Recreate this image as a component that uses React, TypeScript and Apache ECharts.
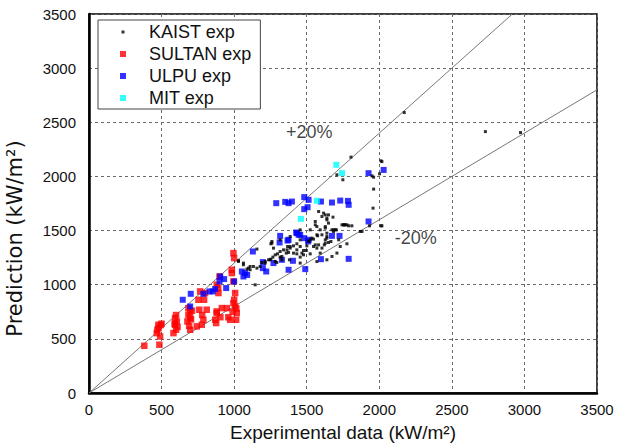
import React, { useEffect, useRef } from "react";
import * as echarts from "echarts";

type P = [number, number];

const seriesNames = ["KAIST exp", "SULTAN exp", "ULPU exp", "MIT exp"];
const axisTicks = [0, 500, 1000, 1500, 2000, 2500, 3000, 3500];

const kaist: P[] = [
  [1030, 1223], [1064, 1184], [1099, 1153], [1030, 1215], [1064, 1200], [1088, 1144], [1110, 1138], [1133, 1168],
  [1157, 1153], [1145, 999], [1179, 1168], [1214, 1200], [1248, 1230], [1283, 1215], [1329, 1261], [1364, 1322],
  [1386, 1353], [1409, 1292], [1260, 1384], [1317, 1415], [1386, 1445], [1455, 1507], [1524, 1415], [1570, 1338],
  [1628, 1415], [1685, 1492], [1754, 1553], [1777, 1553], [1582, 1676], [1559, 1584], [1570, 1537], [1605, 1630],
  [1628, 1645], [1639, 1599], [1650, 1569], [1628, 1537], [1674, 1507], [1697, 1507], [1639, 1476], [1575, 1452],
  [1547, 1421], [1639, 1430], [1667, 1399], [1621, 1368], [1605, 1338], [1582, 1368], [1547, 1353], [1513, 1399],
  [1501, 1359], [1497, 1316], [1524, 1285], [1478, 1316], [1455, 1415], [1455, 1353], [1432, 1378], [1409, 1359],
  [1386, 1338], [1368, 1353], [1340, 1322], [1317, 1307], [1299, 1285], [1283, 1276], [1267, 1255], [1253, 1236],
  [1237, 1230], [1214, 1214], [1191, 1205], [1157, 1329], [1253, 1378], [1271, 1338], [1317, 1255], [1359, 1292],
  [1432, 1285], [1455, 1255], [1478, 1276], [1759, 1553], [1789, 1544], [1811, 1544], [1881, 1492], [2018, 1544],
  [1731, 1353], [1777, 1378], [1524, 1507], [1570, 1214], [1639, 1230], [1674, 1261], [1708, 1292], [1593, 1292],
  [1455, 1200], [1381, 1230], [1329, 1230], [1294, 1205], [1110, 1168], [1616, 1661], [1639, 1615], [1559, 1553],
  [1593, 1507], [1570, 1461], [1605, 1461], [1639, 1445], [1628, 1384], [1536, 1430], [1559, 1368], [1260, 1399],
  [1375, 1298], [1432, 1322], [1467, 1292], [2172, 2590], [2731, 2414], [2973, 2405], [1805, 2178], [2012, 2144],
  [2018, 2137], [1708, 2015], [1749, 1969], [1950, 2005], [1961, 1993], [2002, 2024], [1961, 1883], [1957, 1707],
  [2012, 1544], [1933, 1544], [1869, 1492], [1743, 1553], [1765, 1553], [1685, 1507], [1704, 1507], [1720, 1415],
  [1650, 1645], [1681, 1624], [1628, 1523], [1650, 1390],
];

const sultan: P[] = [
  [381, 436], [485, 446], [490, 522], [471, 584], [478, 630], [494, 627], [467, 553], [500, 640], [480, 600],
  [593, 692], [600, 720], [605, 660], [593, 630], [600, 584], [582, 553], [610, 610], [590, 640],
  [685, 784], [697, 750], [685, 722], [678, 661], [697, 692], [697, 584], [690, 620], [703, 680], [710, 760],
  [754, 861], [766, 938], [743, 615], [777, 630], [788, 676], [811, 769], [793, 861], [800, 923], [760, 769], [780, 720],
  [880, 753], [876, 646], [880, 738], [892, 923], [899, 1076], [915, 784], [949, 784], [880, 1000], [890, 969],
  [870, 677], [905, 700], [995, 1292], [1000, 1246], [984, 1138], [984, 1107], [995, 1030], [1007, 923],
  [995, 830], [1007, 800], [1018, 738], [1014, 676], [972, 676], [1000, 861], [990, 750], [960, 700], [1015, 780],
];

const ulpu: P[] = [
  [646, 861], [701, 916], [697, 799], [788, 916], [830, 938], [853, 938], [869, 960], [899, 1030], [904, 1076],
  [931, 1052], [945, 969], [1000, 1030], [1053, 1122], [1076, 1107], [1064, 1076], [1090, 1090], [1129, 1307],
  [1198, 1209], [1198, 1153], [1221, 1122], [1271, 1200], [1317, 1451], [1375, 1138], [1368, 1408], [1432, 1476],
  [1455, 1461], [1483, 1430], [1510, 1400], [1490, 1144], [1598, 1236], [1674, 1451], [1726, 1451], [1789, 1239],
  [1290, 1753], [1352, 1765], [1375, 1753], [1398, 1768], [1483, 1809], [1513, 1784], [1483, 1698], [1506, 1716],
  [1598, 1768], [1674, 1759], [1731, 1777], [1784, 1774], [1789, 1738], [1926, 2030], [2030, 2060], [1926, 1584],
  [1313, 1390], [1329, 1230], [1405, 1221], [1444, 1461], [1428, 1482], [1513, 1415], [1375, 1415],
];

const mit: P[] = [[1460, 1608], [1570, 1775], [1704, 2107], [1743, 2030]];

const upperBound: P[] = [[0, 0], [2916.7, 3500]];
const lowerBound: P[] = [[0, 0], [3500, 2800]];

const annotations: [number, number, string][] = [
  [1517, 2414, "+20%"],
  [2252, 1430, "-20%"],
];

const FONT = "'Liberation Sans', Arial, sans-serif";

export default function App() {
  const ref = useRef<HTMLDivElement>(null);
  useEffect(() => {
    if (!ref.current) return;
    const chart = echarts.init(ref.current, undefined, { renderer: "svg" });
    const axisCommon = {
      type: "value" as const,
      min: axisTicks[0],
      max: axisTicks[axisTicks.length - 1],
      interval: 500,
      axisLine: { show: true, onZero: false, lineStyle: { color: "#000", width: 2.5 } },
      axisTick: { show: false },
      splitLine: { show: true, lineStyle: { color: "#6a6a6a", type: [3, 3] as any, width: 1 } },
      axisLabel: { color: "#111", fontSize: 15, fontFamily: FONT, formatter: (v: number) => String(v) },
      nameLocation: "middle" as const,
    };
    // wide icons (42 x 6) with the marker centred in them
    const squareIcon = "path://M0 0H0.01V0.01H0Z M18 0H24V6H18Z M41.99 5.99H42V6H41.99Z";
    const smallIcon = "path://M0 0H0.01V0.01H0Z M19.5 1.5H22.5V4.5H19.5Z M41.99 5.99H42V6H41.99Z";
    chart.setOption({
      animation: false,
      backgroundColor: "#fff",
      grid: {
        left: 89, right: 32, top: 14, bottom: 53, show: true, borderColor: "#000", borderWidth: 1.5,
        backgroundColor: "transparent", containLabel: false, outerBoundsMode: "none",
      },
      legend: {
        left: 98,
        top: 20,
        orient: "vertical",
        backgroundColor: "#fff",
        borderColor: "#444",
        borderWidth: 1,
        padding: [3, 9, 2, 4],
        itemWidth: 42,
        itemHeight: 6,
        itemGap: 4,
        symbolKeepAspect: false,
        textStyle: { fontSize: 18, fontFamily: FONT, color: "#111" },
        data: [
          { name: seriesNames[0], icon: smallIcon },
          { name: seriesNames[1], icon: squareIcon },
          { name: seriesNames[2], icon: squareIcon },
          { name: seriesNames[3], icon: squareIcon },
        ],
      },
      xAxis: {
        ...axisCommon,
        name: "Experimental data (kW/m²)",
        nameGap: 30,
        nameTextStyle: { fontSize: 19, fontFamily: FONT, color: "#111" },
        axisLabel: { ...axisCommon.axisLabel, margin: 9 },
      },
      yAxis: {
        ...axisCommon,
        name: "Prediction (kW/m²)",
        nameGap: 64,
        nameTextStyle: { fontSize: 21, fontFamily: "'DejaVu Sans', sans-serif", color: "#111", padding: [0, 70, 0, 0] },
        axisLabel: { ...axisCommon.axisLabel, margin: 13 },
      },
      series: [
        { type: "line", data: upperBound, symbol: "none", silent: true, lineStyle: { color: "#777", width: 1 }, z: 1 },
        { type: "line", data: lowerBound, symbol: "none", silent: true, lineStyle: { color: "#777", width: 1 }, z: 1 },
        { name: seriesNames[0], type: "scatter", symbol: "rect", symbolSize: 3, data: kaist, itemStyle: { color: "#000" }, z: 3 },
        { name: seriesNames[1], type: "scatter", symbol: "rect", symbolSize: 6.5, data: sultan, itemStyle: { color: "#ff0000" }, z: 2 },
        { name: seriesNames[2], type: "scatter", symbol: "rect", symbolSize: 6, data: ulpu, itemStyle: { color: "#0000ff" }, z: 2 },
        { name: seriesNames[3], type: "scatter", symbol: "rect", symbolSize: 6, data: mit, itemStyle: { color: "#00ffff" }, z: 4 },
        {
          type: "scatter",
          data: annotations,
          symbolSize: 0,
          silent: true,
          label: {
            show: true,
            position: "inside",
            formatter: (p: any) => p.value[2],
            fontSize: 18,
            fontFamily: FONT,
            color: "#111",
          },
          z: 5,
        },
      ],
    });
    return () => chart.dispose();
  }, []);
  return <div ref={ref} style={{ width: 629, height: 446, position: "absolute", left: 0, top: 0 }} />;
}
